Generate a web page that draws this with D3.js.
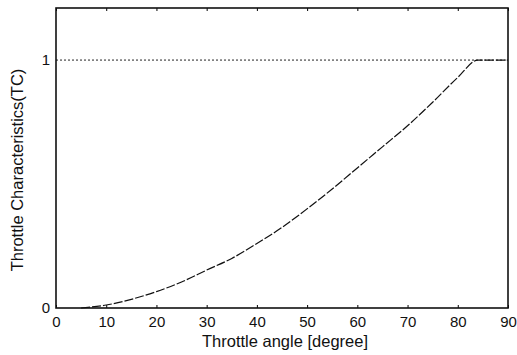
<!DOCTYPE html>
<html>
<head>
<meta charset="utf-8">
<script src="https://cdn.jsdelivr.net/npm/d3@7"></script>
<style>
body { margin: 0; background: #fff; }
text { font-family: "Liberation Sans", Arial, sans-serif; fill: #111; }
</style>
</head>
<body>
<svg id="chart"></svg>
<script>
var width = 517
var height = 355

// throttle angle (deg) vs throttle characteristic
var angle = [5, 10, 15, 20, 25, 30, 35, 40, 45, 50, 55, 60, 65, 70, 75, 80, 84, 90]
var tc = [0, 0.012, 0.035, 0.066, 0.105, 0.153, 0.2, 0.26, 0.325, 0.4, 0.48, 0.565, 0.65, 0.735, 0.83, 0.93, 1.0, 1.0]
var xTicks = [0, 10, 20, 30, 40, 50, 60, 70, 80, 90]
var yTicks = [0, 1]

var plotLeft = 56, plotRight = 508, plotTop = 8, plotBottom = 308

var svg = d3.select("#chart")
	.attr("width", width)
	.attr("height", height)

var x = d3.scaleLinear().domain([0, 90]).range([plotLeft, plotRight])
var y = d3.scaleLinear().domain([0, 1.21]).range([plotBottom, plotTop])

// reference line at TC = 1
svg.append("line")
	.attr("x1", plotLeft)
	.attr("x2", plotRight)
	.attr("y1", y(1))
	.attr("y2", y(1))
	.attr("stroke", "#222")
	.attr("stroke-width", 1)
	.attr("stroke-dasharray", "2,2")

// bottom axis
svg.append("g")
	.attr("transform", "translate(0," + plotBottom + ")")
	.call(d3.axisBottom(x).tickValues(xTicks).tickSize(-3).tickPadding(8))
	.call(function(g){ g.select(".domain").remove() })

// top ticks
svg.append("g")
	.attr("transform", "translate(0," + plotTop + ")")
	.call(d3.axisTop(x).tickValues(xTicks).tickSize(-3).tickFormat(""))
	.call(function(g){ g.select(".domain").remove() })

// left axis
svg.append("g")
	.attr("transform", "translate(" + plotLeft + ",0)")
	.call(d3.axisLeft(y).tickValues(yTicks).tickSize(0).tickPadding(6).tickFormat(d3.format("d")))
	.call(function(g){ g.select(".domain").remove() })

svg.selectAll(".tick text")
	.style("font-size", "15px")

// frame
svg.append("rect")
	.attr("x", plotLeft)
	.attr("y", plotTop)
	.attr("width", plotRight - plotLeft)
	.attr("height", plotBottom - plotTop)
	.attr("fill", "none")
	.attr("stroke", "#111")
	.attr("stroke-width", 1.6)

var line = d3.line()
	.x(function(d, i){ return x(angle[i]) })
	.y(function(d){ return y(d) })
	.curve(d3.curveMonotoneX)

svg.append("path")
	.datum(tc)
	.attr("d", line)
	.attr("fill", "none")
	.attr("stroke", "#111")
	.attr("stroke-width", 1.2)
	.attr("stroke-dasharray", "9,2")

svg.append("text")
	.attr("x", 285)
	.attr("y", 347)
	.attr("text-anchor", "middle")
	.style("font-size", "16.5px")
	.text("Throttle angle [degree]")

svg.append("text")
	.attr("transform", "translate(23,170) rotate(-90)")
	.attr("text-anchor", "middle")
	.style("font-size", "16.5px")
	.text("Throttle Characteristics(TC)")
</script>
</body>
</html>
